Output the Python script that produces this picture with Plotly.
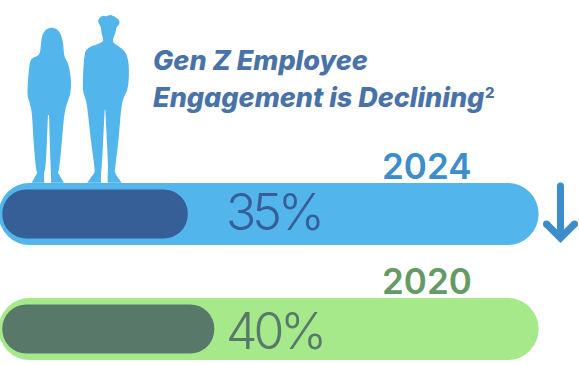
import plotly.graph_objects as go

W, H = 579, 365

# Data
years = ["2020", "2024"]
engagement = [40, 35]
track_end = [101.2, 101.2]
title_lines = ["Gen Z Employee", "Engagement is Declining"]
footnote_mark = "2"

# Styles
track_colors = ["#A6E98A", "#52B5EC"]
fill_colors = ["#58786A", "#375F97"]
year_colors = ["#659A65", "#3B8DCB"]
blue = "#52B5EC"
SCALE = 5.3
ORIGIN = 2.3

def smooth(pts):
    def c(p):
        return f"{p[0]/3/W:.5f},{1-p[1]/3/H:.5f}"
    n = len(pts)
    mid = lambda a, b: ((a[0]+b[0])/2, (a[1]+b[1])/2)
    d = "M" + c(mid(pts[-1], pts[0]))
    for i in range(n):
        d += " Q" + c(pts[i]) + " " + c(mid(pts[i], pts[(i+1) % n]))
    return d + " Z"

woman = [(155,82),(138,87),(127,103),(123,128),(120,165),(100,172),(90,182),(86,215),(81,285),(88,305),
(96,335),(100,420),(108,510),(112,518),(112,518),(95,548),(95,548),(133,548),(133,548),(131,515),(137,510),(144,345),(144,345),
(147,345),(147,345),(152,510),(153,515),(153,548),(153,548),(192,548),(192,548),(174,518),(174,518),
(178,505),(186,420),(194,325),(212,285),(214,240),(205,188),(192,172),(190,130),(183,103),(172,87)]
man = [(328,44),(318,50),(309,46),(300,52),(293,62),(298,74),(303,80),(304,100),(312,122),(300,130),(262,143),(252,165),(247,270),
(255,290),(262,320),(272,420),(285,510),(282,520),(282,520),(262,548),(262,548),(303,548),(303,548),(303,515),(305,510),(314,330),(314,330),
(316,330),(316,330),(325,510),(323,515),(323,548),(323,548),(365,548),(365,548),
(344,520),(345,505),(356,420),(365,300),(385,270),(388,190),(375,150),(340,130),(338,118),(347,98),(349,80),
(358,74),(359,62),(350,54),(340,47)]
arrow = [(557,186),(564,186),(564,229.5),(572,221.5),(577,226.5),(560.5,243),(544,226.5),(549,221.5),(557,229.5)]

fig = go.Figure()
fig.add_bar(y=years, x=[e + 0.7 for e in track_end], base=-0.7, orientation="h", width=62/115,
            marker=dict(color=track_colors, cornerradius=31, line_width=0), hoverinfo="skip")
fig.add_bar(y=years, x=engagement, base=0, orientation="h", width=49/115,
            marker=dict(color=fill_colors, cornerradius=24, line_width=0), hoverinfo="skip")

shapes = [dict(type="path", path=smooth(woman), xref="paper", yref="paper", fillcolor=blue, line_width=0),
          dict(type="path", path=smooth(man), xref="paper", yref="paper", fillcolor=blue, line_width=0)]
arrow_c = year_colors[1]
shapes.append(dict(type="path", path="M" + " L".join(f"{x/W:.5f},{1-y/H:.5f}" for x, y in arrow) + " Z",
                   xref="paper", yref="paper", fillcolor=arrow_c, line_width=0))
for cx, cy in [(560.5, 186), (546.5, 224), (574.5, 224)]:
    shapes.append(dict(type="circle", xref="paper", yref="paper", x0=(cx-3.5)/W, x1=(cx+3.5)/W,
                       y0=1-(cy+3.5)/H, y1=1-(cy-3.5)/H, fillcolor=arrow_c, line_width=0))

def label(text, x, y, size, color, weight=400, italic=False):
    return dict(text=text, x=x/W, y=1-y/H, xref="paper", yref="paper", xanchor="left", yanchor="middle",
                showarrow=False, align="left",
                font=dict(family="Inter", size=size, color=color, weight=weight, style="italic" if italic else "normal"))

anns = [label(title_lines[0], 151, 60, 27, "#4872A8", 800, True),
        label(title_lines[1], 151, 97, 27, "#4872A8", 800, True),
        label(footnote_mark, 483, 92, 15, "#4872A8", 800),
        label(years[1], 380, 166, 35, year_colors[1], 600),
        label(years[0], 380, 281, 35, year_colors[0], 600),
        label(f"{engagement[1]}%", 224, 212, 50, fill_colors[1], 300),
        label(f"{engagement[0]}%", 224, 331, 50, fill_colors[0], 300)]

x0 = -ORIGIN / SCALE
fig.update_layout(width=W, height=H, margin=dict(l=0, r=0, t=0, b=0), barmode="overlay", showlegend=False,
                  paper_bgcolor="white", plot_bgcolor="white", shapes=shapes, annotations=anns,
                  xaxis=dict(range=[x0, x0 + W/SCALE], visible=False, fixedrange=True),
                  yaxis=dict(type="category", categoryorder="array", categoryarray=years,
                             range=[-36/115, 329/115], visible=False, fixedrange=True))
post = """document.body.style.margin='0';
document.querySelectorAll('.annotation-text').forEach(function(t){
  if(t.textContent.indexOf('%')>=0){t.style.letterSpacing='-4px';}
});"""
fig.write_html("out.html", config=dict(displayModeBar=False), post_script=post)
